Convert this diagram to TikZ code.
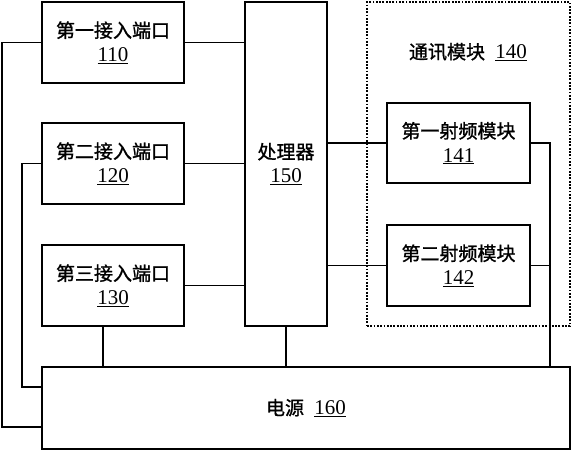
\documentclass[tikz,border=0pt]{standalone}
\usepackage{fontspec}
\setmainfont{Liberation Serif}
\newfontfamily\cjk[AutoFakeBold=1.2]{Noto Sans CJK SC}
\usepackage{tikz}
\usetikzlibrary{positioning,calc}
\newcommand{\refno}[1]{{\fontsize{21}{24}\selectfont\underline{#1}}}

\begin{document}
\begin{tikzpicture}[x=1pt,y=-1pt,
    blk/.style={draw, line width=1.5pt, inner sep=0pt, align=center,
        font=\fontsize{19}{24}\selectfont},
    wire/.style={line width=1.5pt},
    grp/.style={draw, line width=1.5pt, dash pattern=on 1.8pt off 1.5pt, inner sep=0pt}]
            \useasboundingbox (0,0) rectangle (572,450);

            % --- Access ports ---
            \node[blk, minimum width=142pt, minimum height=81pt] (p110) at (113,42.5) {{\cjk\bfseries 第一接入端口}\\\refno{110}};
            \node[blk, minimum width=142pt, minimum height=81pt] (p120) at (113,163.5) {{\cjk\bfseries 第二接入端口}\\\refno{120}};
            \node[blk, minimum width=142pt, minimum height=81pt] (p130) at (113,285.5) {{\cjk\bfseries 第三接入端口}\\\refno{130}};

            % --- Processor ---
            \node[blk, minimum width=82pt, minimum height=324pt] (cpu) at (286,164) {{\cjk\bfseries 处理器}\\\refno{150}};

            % --- Communication module ---
            \node[grp, minimum width=203pt, minimum height=324pt] (comm) at (468.5,164) {};
            \node[font=\fontsize{19}{24}\selectfont] (commlbl) at (468,52) {{\cjk\bfseries 通讯模块}\hspace{0.55em}\refno{140}};
            \node[blk, minimum width=143pt, minimum height=80pt] (rf141) at (458.5,143) {{\cjk\bfseries 第一射频模块}\\\refno{141}};
            \node[blk, minimum width=143pt, minimum height=81pt] (rf142) at (458.5,265.5) {{\cjk\bfseries 第二射频模块}\\\refno{142}};

            % --- Power supply ---
            \node[blk, minimum width=528pt, minimum height=82pt] (pwr) at (306,408) {{\cjk\bfseries 电源}\hspace{0.55em}\refno{160}};

            % Ports to processor
            \draw[wire] (p110.east) -- (p110.east -| cpu.west);
            \draw[wire] (p120.east) -- (p120.east -| cpu.west);
            \draw[wire] (p130.east) -- (p130.east -| cpu.west);

            % Processor to RF modules
            \draw[wire] (rf141.west -| cpu.east) -- (rf141.west);
            \draw[wire] (rf142.west -| cpu.east) -- (rf142.west);

            % Power lines
            \coordinate (lo1) at (2,427);
            \coordinate (lo2) at (22,387);
            \coordinate (rx) at (550,367);
            \draw[wire] (p110.west) -| (lo1) -- (lo1 -| pwr.west);
            \draw[wire] (p120.west) -| (lo2) -- (lo2 -| pwr.west);
            \draw[wire] ([xshift=-10pt]p130.south) -- ([xshift=-10pt]p130.south |- pwr.north);
            \draw[wire] (cpu.south) -- (cpu.south |- pwr.north);
            \draw[wire] (rf141.east) -| (rx);
            \draw[wire] (rf142.east) -- (rf142.east -| rx);
        \end{tikzpicture}
\end{document}
